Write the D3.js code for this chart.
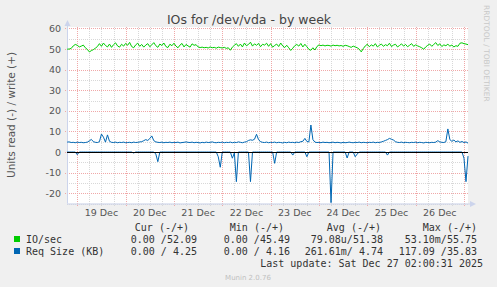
<!DOCTYPE html>
<html>
<head>
<meta charset="utf-8">
<script src="https://cdn.jsdelivr.net/npm/d3@7"></script>
<style>
  body { margin: 0; background: #f0f0f0; }
  svg { display: block; }
  text { font-family: "DejaVu Sans", sans-serif; fill: #555; }
  .mono { font-family: "DejaVu Sans Mono", monospace; fill: #333; font-size: 10px; }
</style>
</head>
<body>
<svg id="chart" width="497" height="287"></svg>
<script>
// hourly samples, starting Dec 18 19:00
const startTime = Date.UTC(2025, 11, 18, 19);

const ioWrite = [
  49.9, 50.0, 50.3, 51.5, 52.2, 51.8, 51.0, 51.4, 51.9, 50.6,
  49.8, 48.6, 49.2, 49.7, 50.4, 51.2, 52.6, 51.3, 52.9, 51.7,
  51.0, 52.4, 50.8, 52.1, 53.0, 51.5, 50.9, 52.3, 51.4, 52.7,
  51.8, 53.2, 51.2, 50.6, 52.0, 52.8, 51.3, 52.2, 50.9, 51.9,
  52.6, 51.1, 52.0, 53.1, 51.6, 50.8, 52.4, 51.7, 52.9, 51.2,
  50.7, 52.3, 51.6, 52.8, 51.4, 50.6, 51.9, 52.7, 51.0, 52.2,
  51.5, 50.9, 52.5, 51.8, 52.1, 51.0, 50.7, 50.9, 50.6, 50.8,
  50.5, 51.0, 50.6, 50.8, 50.4, 50.9, 50.7, 50.5, 50.8, 50.3,
  50.6, 49.4, 50.9, 51.8, 52.6, 51.3, 52.4, 51.0, 52.9, 51.6,
  52.2, 53.3, 51.4, 52.5, 51.8, 52.7, 51.1, 52.3, 51.9, 52.8,
  51.3, 52.6, 50.9, 51.7, 52.4, 51.2, 52.9, 51.5, 50.7, 51.8,
  50.6, 49.3, 50.4, 51.6, 52.2, 51.4, 52.7, 51.0, 52.3, 51.1,
  49.8, 49.4, 50.6, 49.5, 51.2, 52.0, 51.6, 51.9, 51.5, 51.8,
  51.7, 51.4, 51.9, 51.6, 51.8, 51.5, 51.7, 51.3, 51.8, 51.6,
  51.2, 50.8, 51.4, 51.0, 50.6, 49.9, 48.6, 50.2, 51.5, 52.3,
  51.1, 52.0, 51.4, 52.6, 51.0, 51.8, 52.4, 51.3, 52.1, 51.6,
  52.8, 51.2, 51.9, 52.3, 51.0, 51.7, 52.5, 51.4, 52.2, 51.1,
  51.8, 52.6, 51.3, 52.0, 51.5, 51.1, 50.6, 49.9, 51.0, 51.8,
  52.4, 51.3, 52.2, 53.1, 51.7, 52.5, 51.2, 52.0, 51.6, 52.3,
  51.4, 51.9, 51.0, 51.6, 51.3, 52.8, 53.0, 52.6, 52.4, 52.1
];

const reqWrite = [
  4.8, 4.9, 4.6, 4.7, 4.5, 4.8, 4.6, 4.7, 4.5, 4.6,
  4.8, 5.4, 6.1, 5.0, 4.7, 4.6, 5.0, 8.7, 7.2, 4.8,
  8.3, 5.2, 4.7, 4.6, 4.8, 4.5, 4.7, 4.6, 4.8, 4.5,
  4.6, 4.7, 4.5, 4.8, 4.6, 4.7, 4.9, 5.0, 5.5, 6.0,
  5.6, 6.5, 7.8, 5.5, 4.9, 4.7, 4.6, 4.8, 4.5, 4.7,
  4.6, 4.8, 4.5, 4.7, 4.6, 4.8, 4.4, 4.6, 4.7, 4.9,
  4.7, 4.6, 4.8, 4.5, 4.7, 4.6, 4.4, 4.7, 4.5, 4.8,
  4.6, 4.7, 4.9, 4.6, 4.5, 4.7, 4.6, 4.8, 4.5, 4.7,
  4.6, 4.8, 4.5, 4.7, 4.6, 4.9, 4.7, 4.5, 4.8, 5.0,
  5.6, 5.9, 5.7, 6.2, 8.6, 6.0, 5.0, 4.7, 4.6, 4.8,
  4.5, 4.7, 4.6, 4.8, 4.5, 4.7, 4.6, 4.4, 4.7, 4.5,
  4.8, 4.6, 4.7, 4.5, 4.8, 4.6, 5.0, 5.2, 6.6, 5.1,
  4.9, 13.1, 6.0, 4.8, 4.6, 4.7, 4.5, 4.8, 4.6, 4.7,
  4.5, 4.6, 4.8, 4.5, 4.7, 4.6, 4.4, 4.7, 4.5, 4.6,
  4.8, 4.6, 4.5, 4.7, 4.6, 4.8, 4.5, 4.7, 4.6, 4.5,
  4.7, 4.6, 4.8, 4.5, 4.7, 4.6, 4.9, 5.2, 5.6, 6.0,
  6.6, 6.2, 5.8, 5.0, 4.7, 4.6, 4.8, 4.5, 4.7, 4.6,
  4.5, 4.7, 4.6, 4.8, 4.5, 4.7, 4.6, 4.4, 4.7, 4.6,
  4.5, 4.7, 4.6, 4.8, 5.5, 4.9, 4.7, 4.6, 5.0, 11.2,
  6.0, 5.2, 5.8, 4.9, 5.4, 4.7, 5.1, 4.6, 4.9, 4.3
];

// read side, drawn below zero
const reqRead = [
  0, 0, 0, 0, 0, 1.3, 0, 0, 0, 0,
  0, 0, 0, 0, 0, 0, 0, 0, 0, 0,
  0, 0, 0, 0, 0, 0, 0, 0, 0, 0,
  0, 0, 0, 0.5, 0, 0, 0, 0, 0, 0,
  0, 0, 0, 0, 1.0, 4.7, 0, 0, 0, 0,
  0, 0, 0, 0, 0, 0, 0, 0, 0, 0,
  0, 0, 0, 0, 0, 0, 0, 0, 0, 0,
  0, 0, 0, 0, 0, 2.3, 7.4, 0, 0, 0,
  0, 0, 3.0, 0.5, 14.4, 0, 0, 0, 0, 0,
  0, 14.4, 0, 0, 0, 0, 0, 0, 0, 0,
  0, 0, 0, 5.5, 0, 0, 0, 0, 0, 0,
  0, 0, 1.5, 0, 0, 0, 0, 0, 0, 2.3,
  0, 0, 0, 0, 0, 0, 0, 0, 0, 0,
  0, 24.6, 0, 0, 0, 0, 0, 0, 0, 2.9,
  0, 0, 0, 2.3, 1.0, 0, 0, 0, 0, 0,
  0, 0, 0, 0, 0, 0, 0, 0, 0, 1.5,
  0, 0, 0, 0, 0, 0, 0, 0, 0, 0,
  0, 0, 0, 0, 0, 0, 0, 0, 0, 0,
  0, 0, 0, 0, 0, 0, 0, 0, 0, 0,
  0, 0, 0, 0, 0, 0, 0, 3.0, 14.4, 2.0
];

const yTicks = [-20, -10, 0, 10, 20, 30, 40, 50, 60];
const legendHeaders = ["Cur (-/+)", "Min (-/+)", "Avg (-/+)", "Max (-/+)"];
const legendRows = [
  { name: "IO/sec", color: "#00cc00", vals: ["0.00 /52.09", "0.00 /45.49", "79.08u/51.38", "53.10m/55.75"] },
  { name: "Req Size (KB)", color: "#0066b3", vals: ["0.00 / 4.25", "0.00 / 4.16", "261.61m/ 4.74", "117.09 /35.83"] }
];

const svg = d3.select("#chart");
const plotLeft = 67, plotRight = 468, plotTop = 27, plotBottom = 203.5;

const x = d3.scaleUtc()
  .domain([new Date(Date.UTC(2025, 11, 18, 18, 54)), new Date(Date.UTC(2025, 11, 27, 2, 0))])
  .range([plotLeft, plotRight]);
const y = d3.scaleLinear().domain([-25, 60]).range([plotBottom, 28.4]);

const timeAt = i => new Date(startTime + i * 3600e3);

// plot canvas
svg.append("rect").attr("x", plotLeft).attr("y", plotTop)
  .attr("width", plotRight - plotLeft).attr("height", plotBottom - plotTop).attr("fill", "#fff");

// grid
const minorX = d3.utcHour.every(6).range(x.domain()[0], x.domain()[1]);
const majorX = d3.utcDay.range(x.domain()[0], x.domain()[1]);
svg.append("g").selectAll("line").data(minorX).join("line")
  .attr("x1", d => Math.round(x(d)) + 0.5).attr("x2", d => Math.round(x(d)) + 0.5)
  .attr("y1", plotTop).attr("y2", plotBottom + 3)
  .attr("stroke", "#d8d8d8").attr("stroke-dasharray", "1,1");
svg.append("g").selectAll("line").data(d3.range(-25, 61, 5).filter(v => v % 10 !== 0)).join("line")
  .attr("x1", plotLeft).attr("x2", plotRight)
  .attr("y1", d => Math.round(y(d)) + 0.5).attr("y2", d => Math.round(y(d)) + 0.5)
  .attr("stroke", "#d8d8d8").attr("stroke-dasharray", "1,1");
svg.append("g").selectAll("line").data(majorX).join("line")
  .attr("x1", d => Math.round(x(d)) + 0.5).attr("x2", d => Math.round(x(d)) + 0.5)
  .attr("y1", plotTop).attr("y2", plotBottom + 3)
  .attr("stroke", "#f0a8a8").attr("stroke-dasharray", "1,1");
svg.append("g").selectAll("line").data(yTicks).join("line")
  .attr("x1", plotLeft - 2).attr("x2", plotRight)
  .attr("y1", d => Math.round(y(d)) + 0.5).attr("y2", d => Math.round(y(d)) + 0.5)
  .attr("stroke", "#f0a8a8").attr("stroke-dasharray", "1,1");

// axes lines and arrows
svg.append("line").attr("x1", plotLeft + 0.5).attr("x2", plotLeft + 0.5).attr("y1", 22).attr("y2", plotBottom)
  .attr("stroke", "#ccd4ec");
svg.append("line").attr("x1", plotLeft).attr("x2", plotRight + 4).attr("y1", plotBottom + 0.5).attr("y2", plotBottom + 0.5)
  .attr("stroke", "#ccd4ec");
svg.append("path").attr("d", `M${plotLeft - 2.5},26 L${plotLeft + 3.5},26 L${plotLeft + 0.5},20 Z`).attr("fill", "#ccd4ec");
svg.append("path").attr("d", `M${plotRight + 2},${plotBottom - 2.5} L${plotRight + 2},${plotBottom + 3.5} L${plotRight + 8},${plotBottom + 0.5} Z`).attr("fill", "#ccd4ec");

// labels
svg.append("g").selectAll("text").data(yTicks).join("text")
  .attr("x", 61).attr("y", d => y(d) + 3.5).attr("text-anchor", "end")
  .attr("font-size", 9.5).text(d => d);
svg.append("g").selectAll("text")
  .data(majorX.filter(d => x(d3.utcHour.offset(d, 12)) < plotRight)).join("text")
  .attr("x", d => x(d3.utcHour.offset(d, 12))).attr("y", 216).attr("text-anchor", "middle")
  .attr("font-size", 9.5).text(d => d3.utcFormat("%-d %b")(d));

svg.append("text").attr("x", 249).attr("y", 24).attr("text-anchor", "middle")
  .attr("font-size", 12.5).style("fill", "#444").text("IOs for /dev/vda - by week");
svg.append("text").attr("transform", "translate(15,115) rotate(-90)").attr("text-anchor", "middle")
  .attr("font-size", 10.5).text("Units read (-) / write (+)");
svg.append("text").attr("transform", "translate(484,5) rotate(90)").attr("text-anchor", "start")
  .attr("font-size", 7.5).style("fill", "#c8c8c8").text("RRDTOOL / TOBI OETIKER");

// series
const line = d3.line().x((d, i) => x(timeAt(i))).y(d => y(d));
svg.append("path").datum(ioWrite).attr("d", line).attr("fill", "none")
  .attr("stroke", "#00cc00").attr("stroke-width", 1);
svg.append("path").datum(reqRead.map(v => -v)).attr("d", line).attr("fill", "none")
  .attr("stroke", "#0066b3").attr("stroke-width", 1);
svg.append("path").datum(reqWrite).attr("d", line).attr("fill", "none")
  .attr("stroke", "#0066b3").attr("stroke-width", 1);

svg.append("line").attr("x1", plotLeft).attr("x2", plotRight)
  .attr("y1", Math.round(y(0)) + 0.5).attr("y2", Math.round(y(0)) + 0.5)
  .attr("stroke", "#000");

// legend
const colEnds = [189, 284, 381, 477];
const valEnds = [197, 290, 383, 477];
svg.append("g").selectAll("text").data(legendHeaders).join("text").attr("class", "mono")
  .attr("x", (d, i) => colEnds[i]).attr("y", 231).attr("text-anchor", "end").text(d => d);
legendRows.forEach((r, ri) => {
  const yy = 243 + ri * 12;
  svg.append("rect").attr("x", 14).attr("y", yy - 7).attr("width", 6).attr("height", 6).attr("fill", r.color);
  svg.append("text").attr("class", "mono").attr("x", 26).attr("y", yy).text(r.name).style("white-space", "pre");
  r.vals.forEach((v, ci) => {
    svg.append("text").attr("class", "mono").attr("x", valEnds[ci]).attr("y", yy)
      .attr("text-anchor", "end").style("white-space", "pre").text(v);
  });
});
svg.append("text").attr("class", "mono").attr("x", 483).attr("y", 267).attr("text-anchor", "end")
  .text("Last update: Sat Dec 27 02:00:31 2025");
svg.append("text").attr("x", 248).attr("y", 280).attr("text-anchor", "middle")
  .attr("font-size", 7).style("fill", "#c0c0c0").text("Munin 2.0.76");
</script>
</body>
</html>
